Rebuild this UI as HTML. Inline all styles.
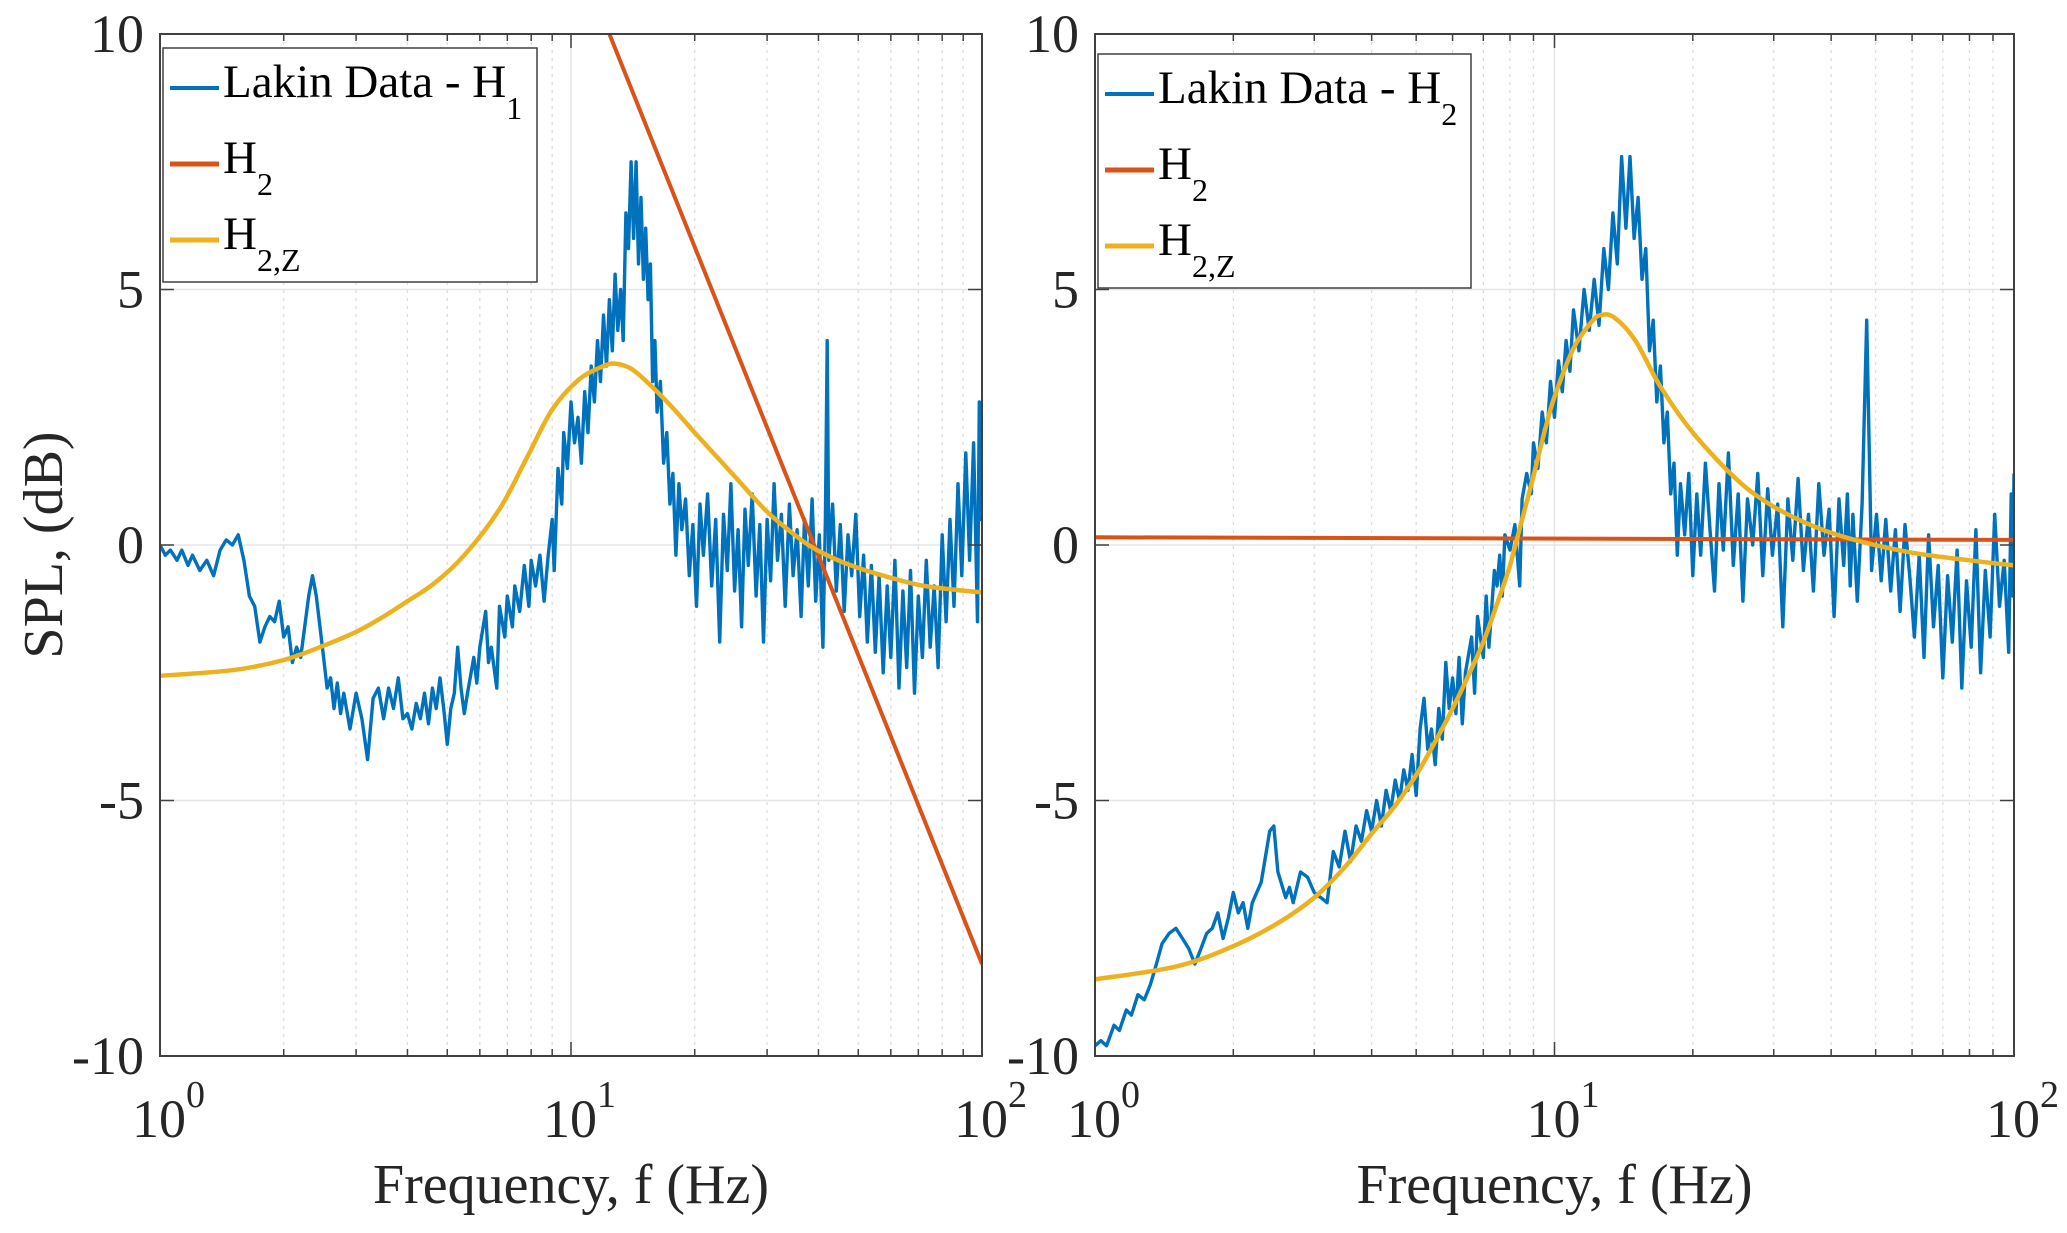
<!DOCTYPE html>
<html><head><meta charset="utf-8">
<style>
html,body{margin:0;padding:0;background:#fff;}
svg{display:block;font-family:"Liberation Serif","DejaVu Serif",serif;}
</style></head>
<body>
<svg id="chart" width="2067" height="1233" viewBox="0 0 2067 1233" xmlns="http://www.w3.org/2000/svg">
<rect x="0" y="0" width="2067" height="1233" fill="#fff"/>
</svg>
<script>
// ---------- data ----------
const yTicks = [10, 5, 0, -5, -10];
const yTickLabels = ["10", "5", "0", "-5", "-10"];
const xDecades = [0, 1, 2];
const xTickExps = ["0", "1", "2"];

const leftBlueF = [1.00,1.03,1.06,1.1,1.13,1.17,1.2,1.25,1.3,1.35,1.4,1.45,1.5,1.55,1.6,1.65,1.7,1.75,1.8,1.85,1.9,1.95,2.0,2.05,2.1,2.15,2.2,2.3,2.35,2.4,2.5,2.55,2.6,2.65,2.7,2.75,2.8,2.9,3.0,3.1,3.2,3.3,3.4,3.5,3.6,3.7,3.8,3.9,4.0,4.1,4.2,4.3,4.4,4.5,4.6,4.7,4.8,4.9,5.0,5.1,5.2,5.3,5.4,5.5,5.6,5.8,5.9,6.0,6.2,6.3,6.4,6.6,6.7,6.9,7.0,7.2,7.3,7.5,7.7,7.9,8.0,8.2,8.4,8.6,8.8,9.0,9.1,9.3,9.5,9.6,9.8,10.0,10.2,10.4,10.6,10.8,11.0,11.2,11.4,11.6,11.8,12.0,12.2,12.4,12.6,12.8,13.0,13.2,13.4,13.6,13.8,14.0,14.2,14.4,14.6,14.8,15.0,15.2,15.4,15.6,15.8,16.0,16.2,16.5,16.8,17.1,17.4,17.7,18.0,18.3,18.6,19,19.4,19.8,20.2,20.6,21,21.5,22,22.5,23,23.5,24,24.5,25,25.5,26,26.5,27,27.6,28.2,28.8,29.4,30,30.6,31.2,31.8,32.5,33.2,34,34.7,35.5,36.3,37,37.8,38.6,39.4,40.2,41,41.6,42.0,42.4,43.3,44.2,45.2,46.2,47.2,48.2,49.3,50.4,51.5,52.6,53.8,55,56.2,57.5,58.8,60,61.4,62.8,64.2,65.6,67,68.5,70,71.6,73.2,74.8,76.5,78.2,80,81.8,83.6,85.5,87.4,89.3,91.3,93.3,95.4,97.5,98.5,99.2,100];
const leftBlueDb = [0,-0.2,-0.1,-0.3,-0.1,-0.4,-0.2,-0.5,-0.3,-0.6,-0.1,0.1,0,0.2,-0.3,-1.0,-1.2,-1.9,-1.6,-1.4,-1.5,-1.1,-1.8,-1.6,-2.3,-2.0,-2.2,-1.0,-0.6,-1.0,-2.2,-2.8,-2.6,-3.2,-2.7,-3.3,-2.9,-3.6,-2.9,-3.4,-4.2,-3.0,-2.8,-3.4,-2.8,-3.2,-2.6,-3.4,-3.3,-3.6,-3.1,-3.4,-2.9,-3.5,-2.8,-3.2,-2.6,-3.2,-3.9,-3.2,-2.9,-2.0,-2.8,-3.3,-2.9,-2.2,-2.7,-2.0,-1.3,-2.3,-2.0,-2.8,-1.2,-1.8,-1.0,-1.6,-0.8,-1.3,-0.4,-1.2,-0.3,-0.8,-0.2,-1.1,-0.2,0.5,-0.5,1.5,0.8,2.2,1.5,2.8,2.0,2.5,1.6,3.0,2.2,3.5,2.8,4.0,3.2,4.5,3.5,4.8,3.8,5.3,4.2,5.0,4.0,6.5,5.8,7.5,6.0,7.5,5.5,6.8,5.2,6.2,4.8,5.5,3.2,4.0,2.6,3.2,1.6,2.2,0.8,1.4,-0.2,1.2,0.3,0.9,-0.6,0.4,-1.2,0.8,-0.2,1.0,-0.8,0.5,-1.9,0.6,-0.5,1.2,-0.9,0.3,-1.6,0.7,-0.4,1.0,-1.0,0.4,-1.9,0.5,-0.7,1.2,-0.3,0.6,-1.2,0.8,-0.6,0.3,-1.4,0.5,-0.8,0.9,-1.1,0.2,-2.0,0.5,4.0,-0.3,0.8,-0.9,0.4,-1.3,0.2,-0.6,0.6,-1.4,-0.2,-1.9,-0.4,-2.1,-0.6,-2.5,-0.8,-2.2,-0.3,-2.8,-0.9,-2.4,-0.5,-2.9,-1.0,-2.2,-0.3,-2.0,-0.8,-2.4,0.2,-1.5,0.5,-1.2,1.2,-0.6,1.8,-0.3,2.0,-1.5,2.8,0.5,1.5];

const rightBlueF = [1.0,1.03,1.06,1.1,1.13,1.17,1.2,1.24,1.28,1.32,1.36,1.4,1.45,1.5,1.55,1.6,1.65,1.7,1.75,1.8,1.85,1.9,1.95,2.0,2.05,2.1,2.15,2.2,2.3,2.4,2.45,2.5,2.6,2.65,2.7,2.8,2.9,3.0,3.1,3.2,3.3,3.4,3.5,3.6,3.7,3.8,3.9,4.0,4.1,4.2,4.3,4.4,4.5,4.6,4.7,4.8,4.9,5.0,5.1,5.2,5.3,5.4,5.5,5.6,5.7,5.8,5.9,6.0,6.1,6.2,6.3,6.4,6.6,6.7,6.8,7.0,7.1,7.2,7.4,7.5,7.6,7.7,7.8,8.0,8.2,8.4,8.5,8.7,8.9,9.0,9.2,9.4,9.6,9.8,10.0,10.2,10.4,10.6,10.8,11.0,11.3,11.6,11.9,12.2,12.5,12.8,13.1,13.4,13.7,14.0,14.3,14.6,14.9,15.2,15.5,15.8,16.1,16.4,16.7,17.0,17.3,17.6,17.9,18.2,18.5,18.8,19.2,19.6,20,20.4,20.8,21.3,21.8,22.3,22.8,23.3,23.9,24.5,25.1,25.7,26.3,27,27.7,28.4,29.1,29.8,30.6,31.4,32.2,33,33.9,34.8,35.7,36.6,37.6,38.6,39.6,40.6,41.6,42.6,43.4,44,44.6,45.6,46.7,47.8,49,50.2,51.4,52.6,53.9,55.2,56.5,57.9,59.3,60.7,62.2,63.7,65.2,66.8,68.4,70,71.7,73.4,75.2,77,78.8,80.7,82.6,84.6,86.6,88.7,90.8,93,95.2,97.4,98.6,99.4,100];
const rightBlueDb = [-9.8,-9.7,-9.8,-9.4,-9.5,-9.1,-9.2,-8.8,-8.9,-8.6,-8.2,-7.8,-7.6,-7.5,-7.7,-7.9,-8.2,-7.9,-7.6,-7.5,-7.2,-7.7,-7.3,-6.8,-7.2,-7.0,-7.5,-7.0,-6.6,-5.6,-5.5,-6.4,-6.9,-6.7,-7.0,-6.4,-6.5,-6.8,-6.9,-7.0,-6.0,-6.3,-5.6,-6.2,-5.5,-5.8,-5.2,-5.6,-5.0,-5.5,-4.8,-5.2,-4.6,-5.0,-4.4,-4.8,-4.1,-4.9,-3.6,-3.0,-4.0,-3.6,-4.3,-3.2,-3.8,-2.3,-3.2,-2.6,-3.3,-2.2,-3.5,-2.5,-1.8,-2.9,-1.4,-2.2,-1.0,-2.0,-0.5,-0.8,-0.2,-1.0,0.2,-0.1,0.4,-0.8,0.9,1.4,1.0,2.0,1.5,2.6,2.0,3.2,2.5,3.6,3.0,4.0,3.4,4.6,3.8,5.0,4.2,5.2,4.3,5.8,5.0,6.5,5.5,7.6,6.2,7.6,6.0,6.8,5.2,5.8,3.8,4.4,2.8,3.5,2.0,2.6,1.0,1.6,-0.2,1.2,0.2,1.4,-0.6,1.0,-0.2,1.6,0.3,-0.9,1.2,-0.1,1.8,-0.4,1.0,-1.1,0.9,0.0,1.4,-0.6,1.1,-0.2,0.8,-1.6,0.9,-0.3,1.3,-0.5,0.6,-0.9,1.2,-0.2,0.7,-1.4,0.9,-0.4,1.0,-0.8,0.6,-1.1,0.8,4.4,-0.5,0.6,-0.7,0.5,-0.9,0.3,-1.3,0.4,-0.6,-1.8,-0.2,-2.2,0.2,-1.6,-0.4,-2.6,-0.6,-1.9,-0.1,-2.8,-0.7,-2.0,0.3,-2.5,-0.5,-1.8,0.6,-1.2,-0.3,-2.1,1.0,-1.0,1.4,-0.6,0.8,-1.5,1.9,-0.2,2.0,-1.0,2.6,0.2,1.3];

const leftRedF = [12.4, 100];
const leftRedDb = [10, -8.2];
const rightRedF = [1, 100];
const rightRedDb = [0.15, 0.1];

const leftYelF = [1,1.5,2,2.5,3,3.5,4,4.65,5.5,6.7,7.8,9.0,10.5,12.0,12.8,14,15.5,17.6,20,22.5,25.5,30,35,39.7,48,61.8,75,100];
const leftYelDb = [-2.56,-2.45,-2.25,-1.97,-1.7,-1.4,-1.1,-0.75,-0.2,0.7,1.7,2.65,3.25,3.5,3.55,3.45,3.15,2.7,2.2,1.75,1.27,0.65,0.2,-0.1,-0.4,-0.67,-0.82,-0.93];
const rightYelF = [1,1.5,2,2.5,3,3.5,4,4.5,5,5.5,6,6.5,7,7.5,8,8.5,9,9.5,10,11,12,12.6,13.5,15,17,20,25,30,37,45,60,80,100];
const rightYelDb = [-8.5,-8.25,-7.85,-7.4,-6.9,-6.3,-5.65,-5.1,-4.5,-3.85,-3.2,-2.55,-1.9,-1.15,-0.4,0.5,1.35,2.2,2.9,3.85,4.35,4.5,4.45,4.0,3.1,2.2,1.27,0.75,0.35,0.1,-0.15,-0.3,-0.4];

// ---------- drawing ----------
const NS = "http://www.w3.org/2000/svg";
const svg = document.getElementById("chart");
function mk(tag, attrs, parent) {
  const e = document.createElementNS(NS, tag);
  for (const k in attrs) e.setAttribute(k, attrs[k]);
  (parent || svg).appendChild(e);
  return e;
}
const TOP = 34, BOT = 1056, YMIN = -10, YMAX = 10;
function yScale(v) { return BOT - (v - YMIN) / (YMAX - YMIN) * (BOT - TOP); }
function makeX(x0, x1) { return f => x0 + (Math.log10(f) - 0) / 2 * (x1 - x0); }

const BLUE = "#0072BD", RED = "#D95319", YEL = "#EDB120";

function panel(p) {
  const g = mk("g", {});
  
  
  const xs = makeX(p.x0, p.x1);
  const grid = mk("g", {}, g);
  
  
  for (let d = 0; d < 2; d++) {
    for (let m = 2; m <= 9; m++) {
      const x = xs(m * Math.pow(10, d));
      const ln = mk("line", {x1: x, x2: x, y1: TOP, y2: BOT, stroke: "#dcdcdc", "stroke-width": 1.3, "stroke-dasharray": "3,5"}, grid);
      
      
    }
  }
  const xm = xs(10);
  const mg = mk("line", {x1: xm, x2: xm, y1: TOP, y2: BOT, stroke: "#e6e6e6", "stroke-width": 1.5}, grid);
  
  
  yTicks.forEach(v => {
    const y = yScale(v);
    const l = mk("line", {x1: p.x0, x2: p.x1, y1: y, y2: y, stroke: "#e6e6e6", "stroke-width": 1.5}, grid);
    
    
  });
  const cp = mk("clipPath", {id: p.name + "-clip"}, g);
  mk("rect", {x: p.x0, y: TOP, width: p.x1 - p.x0, height: BOT - TOP}, cp);
  function series(F, D, color, w, name, smooth) {
    const pts = F.map((f, i) => [xs(f), yScale(D[i])]);
    let d = "M" + pts[0][0].toFixed(1) + "," + pts[0][1].toFixed(1);
    for (let i = 1; i < pts.length; i++) {
      if (smooth) {
        const p0 = pts[Math.max(0, i - 2)], p1 = pts[i - 1], p2 = pts[i], p3 = pts[Math.min(pts.length - 1, i + 1)];
        const c1 = [p1[0] + (p2[0] - p0[0]) / 6, p1[1] + (p2[1] - p0[1]) / 6];
        const c2 = [p2[0] - (p3[0] - p1[0]) / 6, p2[1] - (p3[1] - p1[1]) / 6];
        d += "C" + c1[0].toFixed(1) + "," + c1[1].toFixed(1) + " " + c2[0].toFixed(1) + "," + c2[1].toFixed(1) + " " + p2[0].toFixed(1) + "," + p2[1].toFixed(1);
      } else {
        d += "L" + pts[i][0].toFixed(1) + "," + pts[i][1].toFixed(1);
      }
    }
    const path = mk("path", {d: d, fill: "none", stroke: color, "stroke-width": w, "stroke-linejoin": "round", "clip-path": "url(#" + p.name + "-clip)"}, g);
    
    
  }
  series(p.blueF, p.blueD, BLUE, 3.4, p.name + '-lakin-data-line', false);
  series(p.redF, p.redD, RED, 4, p.name + '-h2-line', false);
  series(p.yelF, p.yelD, YEL, 4.5, p.name + '-h2z-line', true);
  const box = mk("rect", {x: p.x0, y: TOP, width: p.x1 - p.x0, height: BOT - TOP, fill: "none", stroke: "#404040", "stroke-width": 2}, g);
  
  
  for (let d = 0; d < 2; d++) {
    for (let m = 1; m <= 9; m++) {
      const x = xs(m * Math.pow(10, d));
      const len = m === 1 ? 14 : 7;
      mk("line", {x1: x, x2: x, y1: BOT, y2: BOT - len, stroke: "#404040", "stroke-width": 1.5}, g);
      mk("line", {x1: x, x2: x, y1: TOP, y2: TOP + len, stroke: "#404040", "stroke-width": 1.5}, g);
    }
  }
  yTicks.forEach((v, i) => {
    const y = yScale(v);
    mk("line", {x1: p.x0, x2: p.x0 + 14, y1: y, y2: y, stroke: "#404040", "stroke-width": 1.5}, g);
    mk("line", {x1: p.x1, x2: p.x1 - 14, y1: y, y2: y, stroke: "#404040", "stroke-width": 1.5}, g);
    const t = mk("text", {x: p.x0 - 16, y: y + 18, "text-anchor": "end", "font-size": 54, fill: "#262626"}, g);
    t.textContent = yTickLabels[i];
    
    
  });
  xDecades.forEach((dd, i) => {
    const x = xs(Math.pow(10, dd));
    const t = mk("text", {x: x - 28, y: 1137, "font-size": 54, fill: "#262626"}, g);
    t.textContent = "10";
    
    
    const s = mk("tspan", {dy: -30, "font-size": 38}, t);
    s.textContent = xTickExps[i];
  });
  const xl = mk("text", {x: (p.x0 + p.x1) / 2, y: 1203, "text-anchor": "middle", "font-size": 56, fill: "#262626"}, g);
  xl.textContent = "Frequency, f (Hz)";
  
  
  const lg = mk("g", {}, g);
  
  
  const lx = p.lx, ly = p.ly;
  mk("rect", {x: lx, y: ly, width: p.lw, height: 234, fill: "#fff", stroke: "#404040", "stroke-width": 1.5}, lg);
  const entries = [[BLUE, "Lakin Data - H", p.sub1, 3], [RED, "H", "2", 4], [YEL, "H", "2,Z", 4]];
  entries.forEach((e, i) => {
    const cy = ly + 40 + i * 76;
    const ent = mk("g", {}, lg);
    
    
    mk("line", {x1: lx + 7, x2: lx + 56, y1: cy, y2: cy, stroke: e[0], "stroke-width": e[3] + 1}, ent);
    const t = mk("text", {x: lx + 60, y: cy + 9, "font-size": 47, fill: "#000"}, ent);
    t.textContent = e[1];
    const s = mk("tspan", {dy: 22, "font-size": 32}, t);
    s.textContent = e[2];
  });
  return g;
}

panel({name: "left-panel", x0: 160, x1: 982, blueF: leftBlueF, blueD: leftBlueDb, redF: leftRedF, redD: leftRedDb, yelF: leftYelF, yelD: leftYelDb, lx: 163, ly: 48, lw: 374, sub1: "1"});
panel({name: "right-panel", x0: 1095, x1: 2014, blueF: rightBlueF, blueD: rightBlueDb, redF: rightRedF, redD: rightRedDb, yelF: rightYelF, yelD: rightYelDb, lx: 1098, ly: 54, lw: 373, sub1: "2"});

const yl = mk("text", {x: 0, y: 0, "text-anchor": "middle", "font-size": 56, fill: "#262626", transform: "translate(62,545) rotate(-90)"});
yl.textContent = "SPL, (dB)";


</script>
</body></html>
